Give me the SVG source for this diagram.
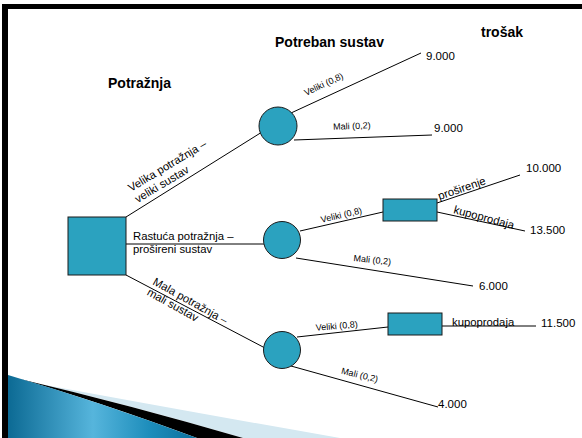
<svg xmlns="http://www.w3.org/2000/svg" width="582" height="438" viewBox="0 0 582 438">
<style>
text{font-family:"Liberation Sans",Arial,sans-serif;fill:#000}
.h{font-size:14px;font-weight:bold}
.n{font-size:11.5px}
.l{font-size:11.3px}
.s{font-size:9px}
.c{fill:#2ba2bf;stroke:#1a1a1a;stroke-width:1}
#connectors line{stroke:#000;stroke-width:1}
</style>
<defs>
<linearGradient id="sw" x1="0" y1="0" x2="1" y2="0">
<stop offset="0" stop-color="#0c6a94"/>
<stop offset="0.45" stop-color="#56b5dc"/>
<stop offset="0.75" stop-color="#1d8dbb"/>
<stop offset="1" stop-color="#0b6f9c"/>
</linearGradient>
</defs>
<rect width="582" height="438" fill="#fff"/>
<g id="decoration">
<path d="M40,384 Q180,410 340,438 L243,438 Q130,405 40,384 Z" fill="#d4e8f1"/>
<path d="M20,379 Q130,405 243,438 L197,438 Q100,402 20,379 Z" fill="#000"/>
<path d="M8,375 Q100,402 197,438 L8,438 Z" fill="url(#sw)"/>
</g>
<g id="frame" fill="#000">
<rect x="2" y="4" width="580" height="5"/>
<rect x="2" y="4" width="6" height="434"/>
</g>
<g id="headings">
<text class="h" x="275" y="47">Potreban sustav</text>
<text class="h" x="481" y="37">trošak</text>
<text class="h" x="108" y="88">Potražnja</text>
</g>
<g id="connectors">
<line x1="126" y1="217" x2="262" y2="132"/>
<line x1="291" y1="113" x2="421" y2="53"/>
<line x1="294" y1="140" x2="432" y2="135"/>
<line x1="126" y1="244" x2="265" y2="244"/>
<line x1="300" y1="231" x2="383" y2="212"/>
<line x1="296" y1="258" x2="473" y2="286"/>
<line x1="437" y1="203" x2="520" y2="175"/>
<line x1="437" y1="212" x2="525" y2="231"/>
<line x1="126" y1="275" x2="265" y2="348"/>
<line x1="297" y1="337" x2="388" y2="327"/>
<line x1="291" y1="366" x2="438" y2="407"/>
<line x1="442" y1="326" x2="536" y2="326"/>
</g>
<g id="edge-labels">
<g transform="translate(131,192) rotate(-31)"><text class="l" x="0" y="0">Velika potražnja –</text><text class="l" x="0" y="13">veliki sustav</text></g>
<text class="l" x="133" y="240">Rastuća potražnja –</text>
<text class="l" x="133" y="253">prošireni sustav</text>
<g transform="translate(152,284) rotate(29)"><text class="l" x="0" y="0">Mala potražnja –</text><text class="l" x="0" y="12">mali sustav</text></g>
<text class="s" text-anchor="middle" transform="translate(325,87) rotate(-25)">Veliki (0,8)</text>
<text class="s" text-anchor="middle" transform="translate(352,129) rotate(-2)">Mali (0,2)</text>
<text class="s" text-anchor="middle" transform="translate(342,218) rotate(-13)">Veliki (0,8)</text>
<text class="s" text-anchor="middle" transform="translate(372,263) rotate(6)">Mali (0,2)</text>
<text class="s" text-anchor="middle" transform="translate(337,329) rotate(-5)">Veliki (0,8)</text>
<text class="s" text-anchor="middle" transform="translate(359,378) rotate(14)">Mali (0,2)</text>
<text class="l" text-anchor="middle" transform="translate(463,192) rotate(-19)">proširenje</text>
<text class="l" text-anchor="middle" transform="translate(483,221) rotate(15)">kupoprodaja</text>
<text class="l" x="452" y="326">kupoprodaja</text>
</g>
<g id="values">
<text class="n" x="426" y="60">9.000</text>
<text class="n" x="434" y="132">9.000</text>
<text class="n" x="526" y="172">10.000</text>
<text class="n" x="530" y="234">13.500</text>
<text class="n" x="479" y="290">6.000</text>
<text class="n" x="541" y="327">11.500</text>
<text class="n" x="438" y="408">4.000</text>
</g>
<g id="d1"><rect class="c" x="68" y="217" width="58" height="58"/></g>
<g id="c1"><circle class="c" cx="278" cy="126" r="19"/></g>
<g id="c2"><circle class="c" cx="282" cy="240" r="18.5"/></g>
<g id="c3"><circle class="c" cx="282" cy="350" r="18.5"/></g>
<g id="d2"><rect class="c" x="383" y="199" width="54" height="22"/></g>
<g id="d3"><rect class="c" x="388" y="313" width="54" height="22"/></g>
</svg>
